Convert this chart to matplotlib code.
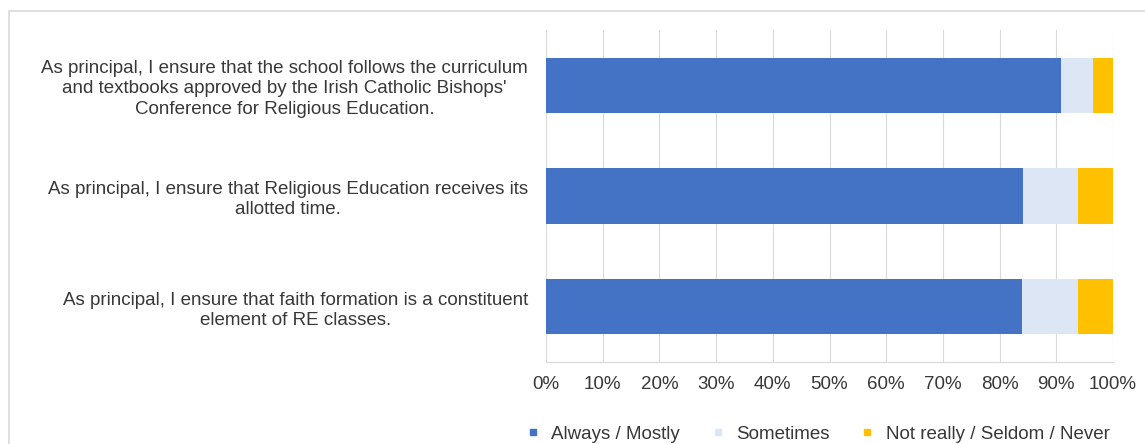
import matplotlib
matplotlib.use("Agg")
import matplotlib.pyplot as plt
from matplotlib.patches import Rectangle
from matplotlib.lines import Line2D
from matplotlib.ticker import MultipleLocator, PercentFormatter
import numpy as np

plt.rcParams['font.family'] = ['Liberation Sans', 'DejaVu Sans']

# survey statements (top to bottom) and response shares in percent
statements = [
    "As principal, I ensure that the school follows the curriculum\n"
    "and textbooks approved by the Irish Catholic Bishops'\n"
    "Conference for Religious Education.",
    "As principal, I ensure that Religious Education receives its\n"
    "allotted time.",
    "As principal, I ensure that faith formation is a constituent\n"
    "element of RE classes.",
]
always_mostly = [90.8, 84.1, 84.0]
sometimes = [5.7, 9.7, 9.8]
seldom_never = [3.5, 6.2, 6.2]
series_names = ["Always / Mostly", "Sometimes", "Not really / Seldom / Never"]

colors = ["#4472C4", "#DCE6F4", "#FFC000"]
text_col = "#383838"
grid_col = "#D9D9D9"
fs = 13.5

fig = plt.figure(figsize=(11.45, 4.44), dpi=100)
ax = fig.add_axes([546 / 1145, 1 - 362 / 444, (1113 - 546) / 1145, (362 - 30) / 444])

y = np.arange(len(statements))
left = np.zeros(len(statements))
for vals, col, name in zip([always_mostly, sometimes, seldom_never], colors, series_names):
    ax.barh(y, vals, left=left, height=0.5, color=col, label=name, zorder=3)
    left += np.array(vals)

ax.set_xlim(0, 100)
ax.set_ylim(len(statements) - 0.5, -0.5)
ax.xaxis.set_major_locator(MultipleLocator(10))
ax.xaxis.set_major_formatter(PercentFormatter(decimals=0))
ax.grid(axis="x", color=grid_col, linewidth=0.8, zorder=0)

ax.set_yticks(y)
ax.set_yticklabels(statements, multialignment="center", linespacing=1.25)
ax.tick_params(axis="y", length=0, pad=13, labelsize=fs, labelcolor=text_col)
ax.tick_params(axis="x", length=0, pad=10, labelsize=fs, labelcolor=text_col)

for side in ["top", "right", "left"]:
    ax.spines[side].set_visible(False)
ax.spines["bottom"].set_color(grid_col)

# legend with small square markers below the axis
handles = [Line2D([], [], marker="s", linestyle="none", markersize=5,
                  markerfacecolor=c, markeredgecolor=c) for c in colors]
ax.legend(handles, series_names, loc="center", bbox_to_anchor=(0.469, -0.218),
          ncol=3, frameon=False, fontsize=fs, labelcolor=text_col,
          handletextpad=0.0, columnspacing=1.0, borderpad=0)

# light outer frame of the chart area
fig.patches.append(Rectangle((9 / 1145, -0.1), 1.2, (444 - 11) / 444 + 0.1,
                             transform=fig.transFigure, fill=False,
                             edgecolor=grid_col, linewidth=1.2))

fig.savefig("out.png", dpi=100)
